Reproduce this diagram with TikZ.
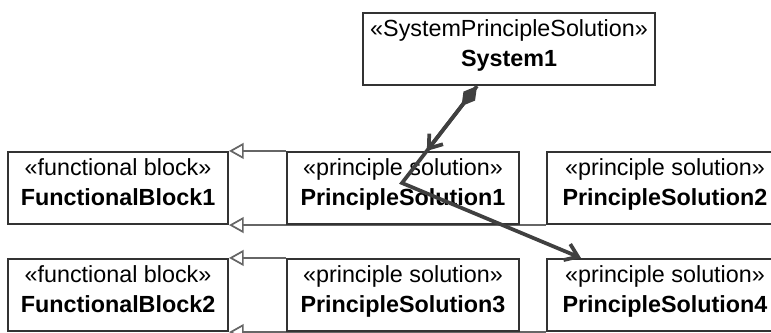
\documentclass[tikz,border=0pt]{standalone}
\usepackage{fontspec}
\setmainfont{Liberation Sans}
\usetikzlibrary{arrows.meta, calc, backgrounds}

\tikzset{
  umlbox/.style={draw=black!80, line width=1.6pt, fill=white, minimum height=54pt,
    inner xsep=0pt, inner ysep=0pt, align=center,
    font=\fontsize{17.5}{22.5}\selectfont,
    execute at begin node=\rule{0pt}{22.5pt},
    execute at end node=\rule[-9pt]{0pt}{9pt}},
  genline/.style={draw=black!60, line width=1.3pt,
    -{Triangle[open, length=11pt, width=12pt]}},
  compline/.style={draw=black!75, line width=2.8pt},
}

\begin{document}
\begin{tikzpicture}[x=0.75pt, y=-0.75pt]
    % Frame
    \useasboundingbox (0,0) rectangle (771,332);
    \clip (0,0) rectangle (771,332);

    % System
    \node[umlbox, minimum width=219pt] (sys) at (509,49) {«SystemPrincipleSolution»\\\textbf{System1}};

    % Blocks and solutions
    \foreach \name/\x/\y/\w/\st/\nm in {
        fbone/118/188/165/functional block/FunctionalBlock1,
        psone/403/188/174/principle solution/PrincipleSolution1,
        pstwo/665/188/177/principle solution/PrincipleSolution2,
        fbtwo/118/295/165/functional block/FunctionalBlock2,
        psthree/403/295/174/principle solution/PrincipleSolution3,
        psfour/665/295/177/principle solution/PrincipleSolution4} {
        \node[umlbox, minimum width=\w pt] (\name) at (\x,\y) {«\st»\\\textbf{\nm}};
    }

    % Generalizations
    \begin{scope}[on background layer]
        \draw[genline] (psone.north west) -- (fbone.north east);
        \draw[genline] (pstwo.south west) -- (fbone.south east);
        \draw[genline] (psthree.north west) -- (fbtwo.north east);
        \draw[genline] (psfour.south west) -- (fbtwo.south east);
    \end{scope}

    % Composition
    \coordinate (src) at ($(sys.south)+(-32,0)$);
    \coordinate (bend) at (402,183);
    \draw[compline, {Diamond[length=19pt, width=11pt]}-{Straight Barb[length=9pt, width=13pt]}]
        (src) -- (intersection of src--bend and psone.north west--psone.north east);
    \draw[compline, -{Straight Barb[length=9pt, width=13pt]}]
        (src) -- (bend) -- ($(psfour.north west)+(35,0)$);
\end{tikzpicture}
\end{document}
